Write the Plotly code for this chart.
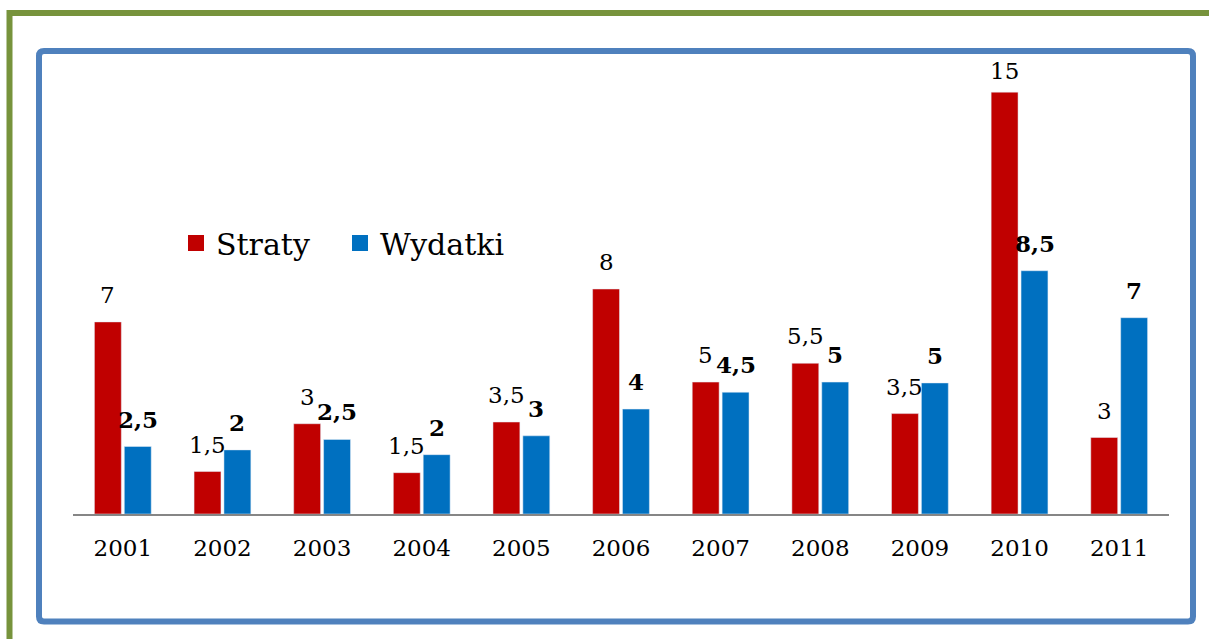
import plotly.graph_objects as go

# ---- data ----
years = ["2001", "2002", "2003", "2004", "2005", "2006", "2007", "2008", "2009", "2010", "2011"]
straty = [6.83, 1.51, 3.21, 1.47, 3.27, 8.0, 4.69, 5.36, 3.57, 15.0, 2.72]
wydatki = [2.40, 2.28, 2.65, 2.11, 2.78, 3.73, 4.33, 4.69, 4.66, 8.65, 6.98]
straty_labels = ["7", "1,5", "3", "1,5", "3,5", "8", "5", "5,5", "3,5", "15", "3"]
wydatki_labels = ["2,5", "2", "2,5", "2", "3", "4", "4,5", "5", "5", "8,5", "7"]

RED = "#C00000"
BLUE = "#0070C0"
FONT = "DejaVu Serif"
LBL = 23
YMAX = 16

fig = go.Figure()
fig.add_trace(go.Bar(name="Straty", x=years, y=straty, marker_color=RED, showlegend=False))
fig.add_trace(go.Bar(name="Wydatki", x=years, y=wydatki, marker_color=BLUE, showlegend=False))
# legend entries (large square symbols)
fig.add_trace(go.Scatter(name="Straty", x=[years[0]], y=[None], mode="markers",
                         marker=dict(symbol="square", size=19, color=RED)))
fig.add_trace(go.Scatter(name="Wydatki", x=[years[0]], y=[None], mode="markers",
                         marker=dict(symbol="square", size=19, color=BLUE)))


def shift_for(v):
    # labels close to the top of the plot sit a little lower (kept inside the frame)
    return 6 if v > 0.9 * YMAX else 12


annotations = []
for i, (v, t) in enumerate(zip(straty, straty_labels)):
    annotations.append(dict(x=i, y=v, xref="x", yref="y", text=t, showarrow=False,
                            xshift=-15, yshift=shift_for(v), yanchor="bottom",
                            font=dict(family=FONT, size=LBL, color="black")))
for i, (v, t) in enumerate(zip(wydatki, wydatki_labels)):
    annotations.append(dict(x=i, y=v, xref="x", yref="y", text="<b>" + t + "</b>", showarrow=False,
                            xshift=15, yshift=shift_for(v), yanchor="bottom",
                            font=dict(family=FONT, size=LBL, color="black")))

L, R, T, B = 73, 40, 64, 125
W, H = 1209, 639
pw, ph = W - L - R, H - T - B


def px(x):
    return (x - L) / pw


def py(y):
    return (H - B - y) / ph


def rounded_rect(x0, y0, x1, y1, r):
    return (f"M {px(x0 + r)},{py(y0)} L {px(x1 - r)},{py(y0)} Q {px(x1)},{py(y0)} {px(x1)},{py(y0 + r)} "
            f"L {px(x1)},{py(y1 - r)} Q {px(x1)},{py(y1)} {px(x1 - r)},{py(y1)} "
            f"L {px(x0 + r)},{py(y1)} Q {px(x0)},{py(y1)} {px(x0)},{py(y1 - r)} "
            f"L {px(x0)},{py(y0 + r)} Q {px(x0)},{py(y0)} {px(x0 + r)},{py(y0)} Z")


shapes = [
    # outer green frame
    dict(type="rect", xref="paper", yref="paper", x0=px(9.5), x1=px(1220), y0=py(650), y1=py(13),
         line=dict(color="#77933C", width=6), layer="below"),
    # inner blue frame (rounded corners)
    dict(type="path", xref="paper", yref="paper", path=rounded_rect(39, 51, 1193, 621.5, 5),
         line=dict(color="#4F81BD", width=6), layer="below"),
]

fig.update_layout(
    width=W, height=H,
    margin=dict(l=L, r=R, t=T, b=B, autoexpand=False),
    paper_bgcolor="white", plot_bgcolor="white",
    barmode="group", bargap=0.4, bargroupgap=0.1,
    font=dict(family=FONT, size=LBL, color="black"),
    xaxis=dict(type="category", categoryorder="array", categoryarray=years, range=[-0.5, 10.5],
               showline=True, linecolor="#868686", linewidth=2,
               showgrid=False, ticks="", tickfont=dict(family=FONT, size=LBL, color="black"),
               ticklabelstandoff=12, zeroline=False),
    yaxis=dict(range=[0, YMAX], visible=False, showgrid=False, zeroline=False),
    legend=dict(orientation="h", x=px(176), xanchor="left", y=py(243), yanchor="middle",
                font=dict(family=FONT, size=30, color="black"),
                entrywidth=119, entrywidthmode="pixels", bgcolor="rgba(0,0,0,0)",
                itemsizing="trace"),
    annotations=annotations,
    shapes=shapes,
)

fig.write_html("out.html", config={"displayModeBar": False},
               post_script="document.body.style.margin='0';")
